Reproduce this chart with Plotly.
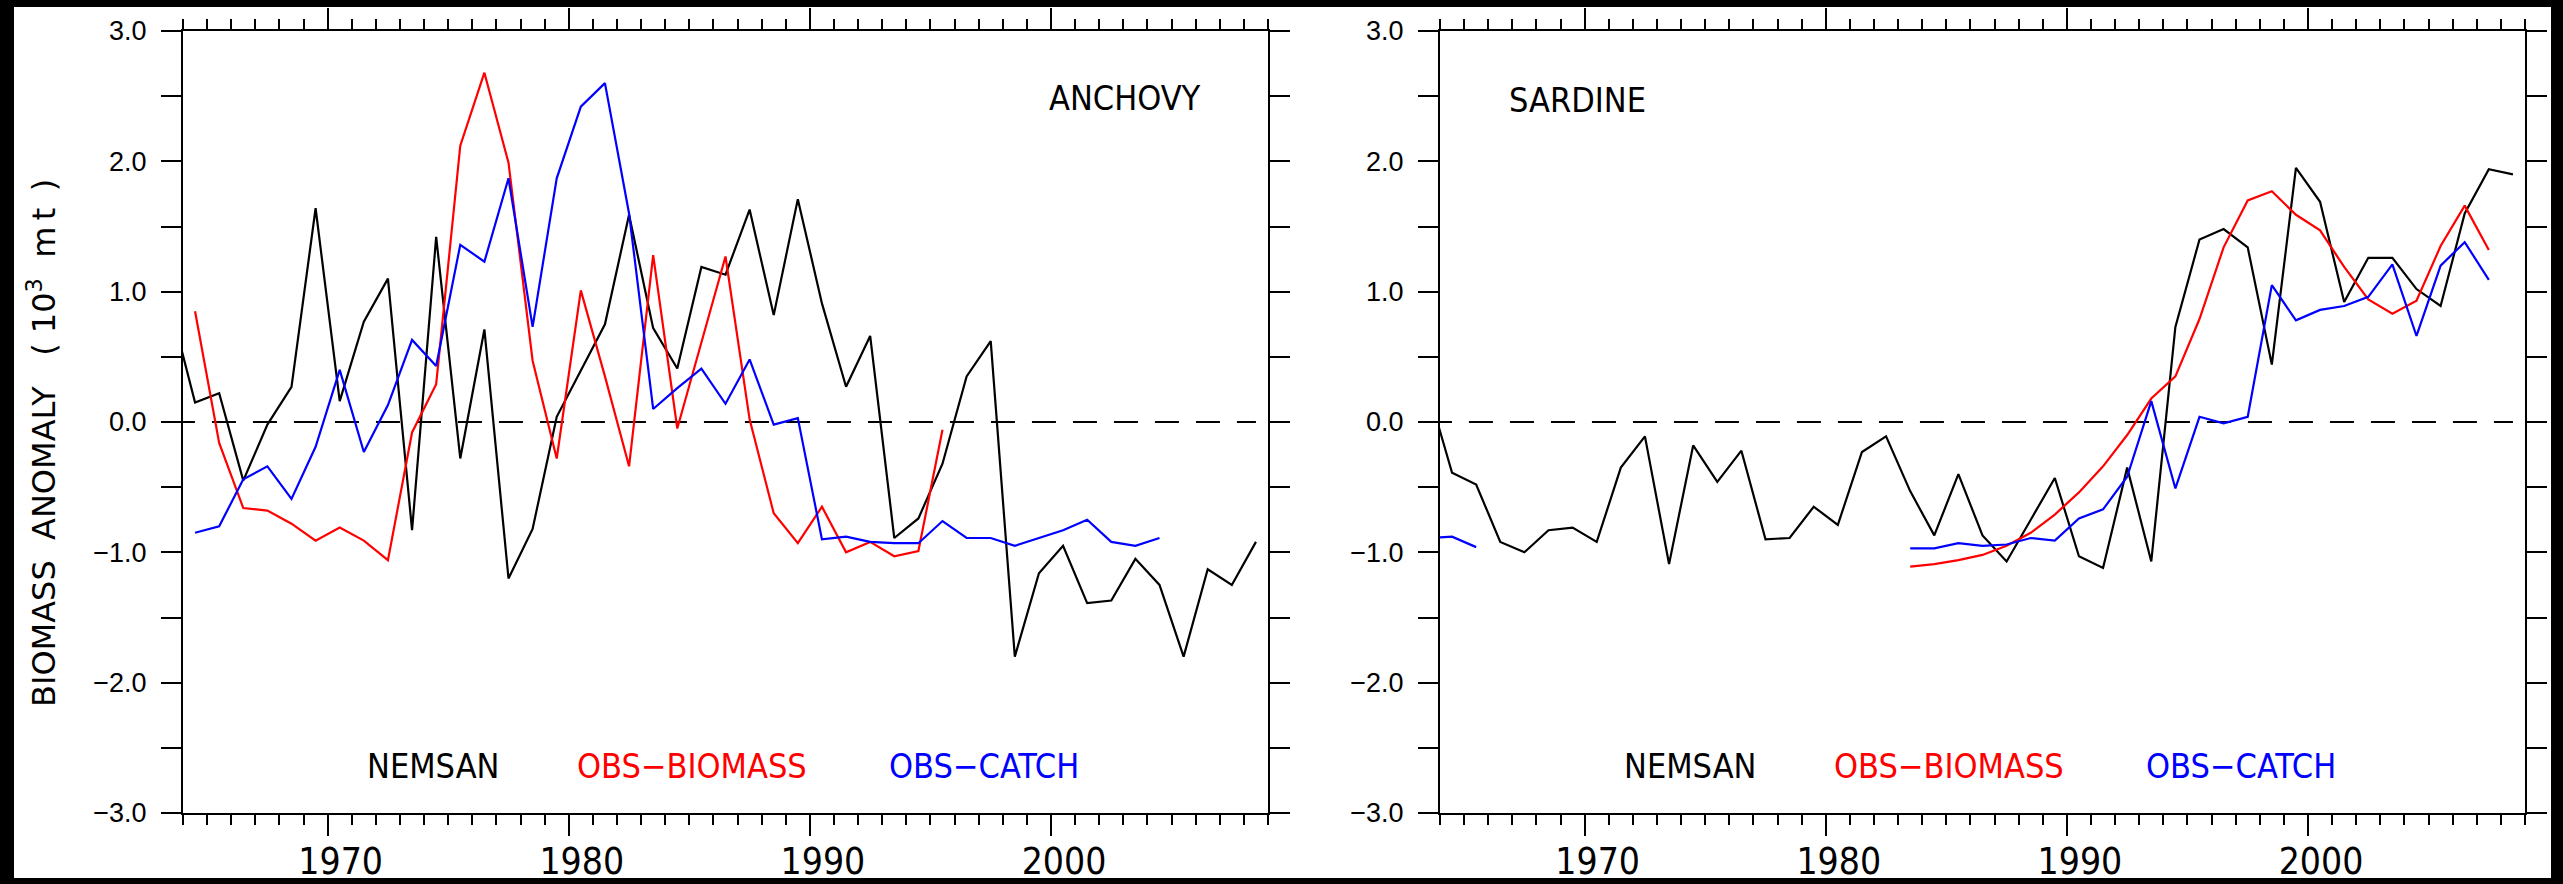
import plotly.graph_objects as go

# ---------------- data ----------------
years = list(range(1963, 2009))  # plotted at mid-year

anchovy_nemsan = [0.87, 0.15, 0.22, -0.45, -0.02, 0.27, 1.64, 0.16, 0.77, 1.10,
                  -0.83, 1.42, -0.28, 0.71, -1.20, -0.82, 0.04, 0.40, 0.75, 1.59,
                  0.72, 0.41, 1.19, 1.13, 1.63, 0.82, 1.71, 0.91, 0.27, 0.66,
                  -0.89, -0.74, -0.32, 0.35, 0.62, -1.80, -1.16, -0.95, -1.39, -1.37,
                  -1.05, -1.25, -1.80, -1.13, -1.25, -0.92]
anchovy_biomass = [None, 0.85, -0.16, -0.66, -0.68, -0.78, -0.91, -0.81, -0.91, -1.06,
                   -0.08, 0.29, 2.12, 2.68, 1.99, 0.47, -0.28, 1.01, 0.35, -0.34,
                   1.28, -0.05, 0.60, 1.27, 0.02, -0.70, -0.93, -0.65, -1.00, -0.92,
                   -1.03, -0.99, -0.06, None, None, None, None, None, None, None,
                   None, None, None, None, None, None]
anchovy_catch = [None, -0.85, -0.80, -0.44, -0.34, -0.59, -0.19, 0.40, -0.23, 0.13,
                 0.63, 0.43, 1.36, 1.23, 1.87, 0.73, 1.87, 2.42, 2.60, 1.60,
                 0.10, 0.26, 0.41, 0.14, 0.48, -0.02, 0.03, -0.90, -0.88, -0.92,
                 -0.93, -0.93, -0.76, -0.89, -0.89, -0.95, -0.89, -0.83, -0.75, -0.92,
                 -0.95, -0.89, None, None, None, None]

sardine_nemsan = [0.25, -0.39, -0.48, -0.92, -1.00, -0.83, -0.81, -0.92, -0.35, -0.11,
                  -1.09, -0.18, -0.46, -0.22, -0.90, -0.89, -0.65, -0.79, -0.23, -0.11,
                  -0.53, -0.87, -0.40, -0.87, -1.07, -0.75, -0.43, -1.03, -1.12, -0.35,
                  -1.07, 0.73, 1.40, 1.48, 1.34, 0.44, 1.95, 1.69, 0.92, 1.26,
                  1.26, 1.02, 0.89, 1.60, 1.94, 1.90]
sardine_biomass = [None, None, None, None, None, None, None, None, None, None,
                   None, None, None, None, None, None, None, None, None, None,
                   -1.11, -1.09, -1.06, -1.02, -0.95, -0.85, -0.71, -0.54, -0.34, -0.10,
                   0.18, 0.35, 0.79, 1.34, 1.70, 1.77, 1.59, 1.47, 1.19, 0.94,
                   0.83, 0.93, 1.35, 1.66, 1.32, None]
sardine_catch = [-0.89, -0.88, -0.96, None, None, None, None, None, None, None,
                 None, None, None, None, None, None, None, None, None, None,
                 -0.97, -0.97, -0.93, -0.95, -0.94, -0.89, -0.91, -0.74, -0.67, -0.42,
                 0.16, -0.51, 0.04, -0.01, 0.04, 1.05, 0.78, 0.86, 0.89, 0.96,
                 1.21, 0.66, 1.20, 1.38, 1.09, None]

x_tick_vals = [1970, 1980, 1990, 2000]
series_names = ["NEMSAN", "OBS\u2212BIOMASS", "OBS\u2212CATCH"]
series_colors = ["black", "#ff0000", "#0000ff"]
panel_titles = ["ANCHOVY", "SARDINE"]

# ---------------- figure ----------------
W, H = 2563, 884
COND = "DejaVu Sans Condensed, Liberation Sans Narrow, Arial Narrow, sans-serif"
PLAIN = "Liberation Sans, Arial, sans-serif"
WIDE = "DejaVu Sans, Verdana, sans-serif"

xmid = [y + 0.5 for y in years]

fig = go.Figure()

panels = [
    ("x", "y", [anchovy_nemsan, anchovy_biomass, anchovy_catch]),
    ("x2", "y2", [sardine_nemsan, sardine_biomass, sardine_catch]),
]
for xa, ya, sers in panels:
    fig.add_trace(go.Scatter(x=xmid, y=[0] * len(xmid), xaxis=xa, yaxis=ya, mode="lines",
                             line=dict(color="black", width=2, dash="24px,17px"),
                             showlegend=False, hoverinfo="skip"))
    for vals, col in zip(sers, series_colors):
        fig.add_trace(go.Scatter(x=xmid, y=vals, xaxis=xa, yaxis=ya, mode="lines",
                                 line=dict(color=col, width=2.2), showlegend=False,
                                 connectgaps=False))

def px_x(p):
    return p / W

def px_y(p):
    return 1 - p / H

xdoms = [[px_x(183), px_x(1268)], [px_x(1440), px_x(2525)]]
ydom = [px_y(813), px_y(31)]

def xaxis_cfg(dom, anchor):
    return dict(domain=dom, anchor=anchor, range=[years[0] + 1, years[-1] + 1],
                automargin=False,
                tickmode="array", tickvals=x_tick_vals, ticktext=[str(v) for v in x_tick_vals],
                ticks="outside", ticklen=21, tickwidth=2, tickcolor="black",
                showline=True, linecolor="black", linewidth=2, mirror="ticks",
                showgrid=False, zeroline=False,
                tickfont=dict(family=COND, size=37, color="black"),
                ticklabelshift=13, ticklabelstandoff=-6,
                minor=dict(dtick=1, tick0=1964, ticks="outside", ticklen=10,
                           tickwidth=2, tickcolor="black", showgrid=False))

def yaxis_cfg(anchor):
    return dict(domain=ydom, anchor=anchor, range=[-3, 3], tickmode="linear",
                automargin=False,
                tick0=0, dtick=1, tickformat=".1f",
                ticks="outside", ticklen=20, tickwidth=2, tickcolor="black",
                showline=True, linecolor="black", linewidth=2, mirror="ticks",
                showgrid=False, zeroline=False,
                tickfont=dict(family=PLAIN, size=27, color="black"),
                ticklabelstandoff=9,
                minor=dict(dtick=0.5, tick0=0, ticks="outside", ticklen=20,
                           tickwidth=2, tickcolor="black", showgrid=False))

annotations = []
# panel titles
annotations.append(dict(text=panel_titles[0], x=px_x(1203), y=px_y(98), xref="paper", yref="paper",
                        xanchor="right", yanchor="middle", showarrow=False,
                        font=dict(family=COND, size=34, color="black")))
annotations.append(dict(text=panel_titles[1], x=px_x(1507), y=px_y(100), xref="paper", yref="paper",
                        xanchor="left", yanchor="middle", showarrow=False,
                        font=dict(family=COND, size=34, color="black")))
# legends (text only)
for base in (183, 1440):
    for name, col, off in zip(series_names, series_colors, (250, 509, 801)):
        annotations.append(dict(text=name, x=px_x(base + off), y=px_y(766), xref="paper", yref="paper",
                                xanchor="center", yanchor="middle", showarrow=False,
                                font=dict(family=COND, size=34, color=col)))
# y axis title
NB = "\u00a0"
TH = "\u2009"
ytitle = ("BIOMASS" + NB * 2 + "ANOMALY" + NB * 3 + "(" + NB + "10<sup>3</sup>" + NB * 2
          + "m" + TH + "t" + NB + TH + ")")
annotations.append(dict(text=ytitle,
                        x=px_x(42), y=px_y(443), xref="paper", yref="paper",
                        xanchor="center", yanchor="middle", textangle=-90, showarrow=False,
                        font=dict(family=WIDE, size=32, color="black")))

# black frame around the picture
shapes = [
    dict(type="rect", xref="paper", yref="paper", x0=0, x1=px_x(14), y0=0, y1=1,
         fillcolor="black", line=dict(width=0), layer="above"),
    dict(type="rect", xref="paper", yref="paper", x0=px_x(2551), x1=1, y0=0, y1=1,
         fillcolor="black", line=dict(width=0), layer="above"),
    dict(type="rect", xref="paper", yref="paper", x0=0, x1=1, y0=px_y(7), y1=1,
         fillcolor="black", line=dict(width=0), layer="above"),
    dict(type="rect", xref="paper", yref="paper", x0=0, x1=1, y0=0, y1=px_y(878),
         fillcolor="black", line=dict(width=0), layer="above"),
]

fig.update_layout(
    width=W, height=H,
    margin=dict(l=0, r=0, t=0, b=0, autoexpand=False),
    paper_bgcolor="white", plot_bgcolor="white",
    showlegend=False,
    xaxis=xaxis_cfg(xdoms[0], "y"),
    yaxis=yaxis_cfg("x"),
    xaxis2=xaxis_cfg(xdoms[1], "y2"),
    yaxis2=yaxis_cfg("x2"),
    annotations=annotations,
    shapes=shapes,
)

fig.write_html("out.html")
